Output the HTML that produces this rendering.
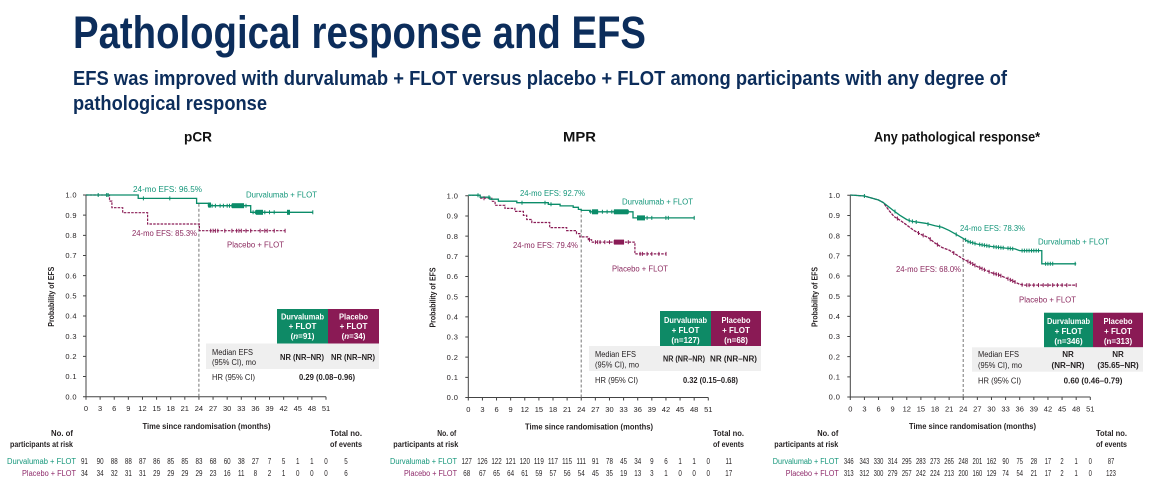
<!DOCTYPE html>
<html><head><meta charset="utf-8"><style>
html,body{margin:0;padding:0;background:#fff;}
svg{display:block;font-family:"Liberation Sans",Arial,sans-serif;}
</style></head><body>
<svg width="1151" height="490" viewBox="0 0 1151 490" xmlns="http://www.w3.org/2000/svg">
<rect width="1151" height="490" fill="#fff"/>
<!-- Titles -->
<text x="73" y="48" font-size="45" font-weight="bold" fill="#0c2d5b" textLength="573" lengthAdjust="spacingAndGlyphs">Pathological response and EFS</text>
<text x="73" y="85" font-size="20" font-weight="bold" fill="#0c2d5b" textLength="934" lengthAdjust="spacingAndGlyphs">EFS was improved with durvalumab + FLOT versus placebo + FLOT among participants with any degree of</text>
<text x="73" y="110" font-size="20" font-weight="bold" fill="#0c2d5b" textLength="194" lengthAdjust="spacingAndGlyphs">pathological response</text>
<text x="184" y="141.5" font-size="14" font-weight="bold" fill="#111" textLength="28" lengthAdjust="spacingAndGlyphs">pCR</text>
<text x="563" y="141.5" font-size="14" font-weight="bold" fill="#111" textLength="33" lengthAdjust="spacingAndGlyphs">MPR</text>
<text x="874" y="141.5" font-size="14" font-weight="bold" fill="#111" textLength="166" lengthAdjust="spacingAndGlyphs">Any pathological response*</text>

<!-- ================= PANEL 1 ================= -->
<g transform="translate(86,396.7)" fill="#231f20">
<path d="M0,-201.7V0H240" stroke="#444" stroke-width="1" fill="none"/>
<path d="M-3,0H0M-3,-20.17H0M-3,-40.34H0M-3,-60.51H0M-3,-80.68H0M-3,-100.85H0M-3,-121.02H0M-3,-141.19H0M-3,-161.36H0M-3,-181.53H0M-3,-201.7H0M0,0v3M14.12,0v3M28.24,0v3M42.35,0v3M56.47,0v3M70.59,0v3M84.71,0v3M98.82,0v3M112.94,0v3M127.06,0v3M141.18,0v3M155.29,0v3M169.41,0v3M183.53,0v3M197.65,0v3M211.76,0v3M225.88,0v3M240,0v3" stroke="#444" stroke-width="1"/>
<text font-size="7.5" text-anchor="end" letter-spacing="0.4"><tspan x="-9" y="2.7">0.0</tspan><tspan x="-9" y="-17.5">0.1</tspan><tspan x="-9" y="-37.6">0.2</tspan><tspan x="-9" y="-57.8">0.3</tspan><tspan x="-9" y="-78">0.4</tspan><tspan x="-9" y="-98.2">0.5</tspan><tspan x="-9" y="-118.3">0.6</tspan><tspan x="-9" y="-138.5">0.7</tspan><tspan x="-9" y="-158.7">0.8</tspan><tspan x="-9" y="-178.8">0.9</tspan><tspan x="-9" y="-199">1.0</tspan></text>
<text font-size="7.5" text-anchor="middle" y="14.3"><tspan x="0">0</tspan><tspan x="14.12">3</tspan><tspan x="28.24">6</tspan><tspan x="42.35">9</tspan><tspan x="56.47">12</tspan><tspan x="70.59">15</tspan><tspan x="84.71">18</tspan><tspan x="98.82">21</tspan><tspan x="112.94">24</tspan><tspan x="127.06">27</tspan><tspan x="141.18">30</tspan><tspan x="155.29">33</tspan><tspan x="169.41">36</tspan><tspan x="183.53">39</tspan><tspan x="197.65">42</tspan><tspan x="211.76">45</tspan><tspan x="225.88">48</tspan><tspan x="240">51</tspan></text>
<text x="56.5" y="32.5" font-size="8" font-weight="bold" textLength="128" lengthAdjust="spacingAndGlyphs">Time since randomisation (months)</text>
<text transform="translate(-32,-100) rotate(-90)" x="-30" y="0" font-size="8" font-weight="bold" textLength="60" lengthAdjust="spacingAndGlyphs">Probability of EFS</text>
<text x="-35" y="39.3" font-size="8" font-weight="bold" textLength="22" lengthAdjust="spacingAndGlyphs">No. of</text>
<text x="-76" y="50.3" font-size="8" font-weight="bold" textLength="63" lengthAdjust="spacingAndGlyphs">participants at risk</text>
<text x="244" y="39.3" font-size="8" font-weight="bold" textLength="32" lengthAdjust="spacingAndGlyphs">Total no.</text>
<text x="244" y="50.3" font-size="8" font-weight="bold" textLength="32" lengthAdjust="spacingAndGlyphs">of events</text>
<text x="-79" y="67.5" font-size="8" fill="#14967a" textLength="69" lengthAdjust="spacingAndGlyphs">Durvalumab + FLOT</text>
<text x="-64" y="79.5" font-size="8" fill="#8e2a6a" textLength="54" lengthAdjust="spacingAndGlyphs">Placebo + FLOT</text>
<g transform="scale(0.8,1)" font-size="7.8" text-anchor="middle">
<text y="67.5"><tspan x="-2">91</tspan><tspan x="17.65">90</tspan><tspan x="35.3">88</tspan><tspan x="52.94">88</tspan><tspan x="70.59">87</tspan><tspan x="88.24">86</tspan><tspan x="105.89">85</tspan><tspan x="123.53">85</tspan><tspan x="141.18">83</tspan><tspan x="158.83">68</tspan><tspan x="176.48">60</tspan><tspan x="194.11">38</tspan><tspan x="211.76">27</tspan><tspan x="229.41">7</tspan><tspan x="247.06">5</tspan><tspan x="264.7">1</tspan><tspan x="282.35">1</tspan><tspan x="300">0</tspan><tspan x="325">5</tspan></text>
<text y="79.5"><tspan x="-2">34</tspan><tspan x="17.65">34</tspan><tspan x="35.3">32</tspan><tspan x="52.94">31</tspan><tspan x="70.59">31</tspan><tspan x="88.24">29</tspan><tspan x="105.89">29</tspan><tspan x="123.53">29</tspan><tspan x="141.18">29</tspan><tspan x="158.83">23</tspan><tspan x="176.48">16</tspan><tspan x="194.11">11</tspan><tspan x="211.76">8</tspan><tspan x="229.41">2</tspan><tspan x="247.06">1</tspan><tspan x="264.7">0</tspan><tspan x="282.35">0</tspan><tspan x="300">0</tspan><tspan x="325">6</tspan></text>
</g>
</g>
<path d="M198.9,396.7V203.3" stroke="#777" stroke-width="1" stroke-dasharray="3,2" fill="none"/>
<path d="M86,195H109.5V201.1H111.9V207.7H122.7V212.7H147.6V224H199.4V230.7H285.1" stroke="#8a1c56" stroke-width="1.2" stroke-dasharray="2.5,1.2" fill="none"/>
<path d="M86,195H138.2V198.4H196.6V203.3H208.4V205.7H250.7V212.3H312.8" stroke="#0b8c69" stroke-width="1.3" fill="none"/>
<path d="M98.2,193v4M106.7,193v4M108.1,193v4M143.4,196.4v4M169.8,196.4v4M209.8,203.7v4M212.1,203.7v4M215.4,203.7v4M220.1,203.7v4M223.4,203.7v4M227.2,203.7v4M229.5,203.7v4M231.9,203.7v4M234.2,203.7v4M236.6,203.7v4M238,203.7v4M239.4,203.7v4M241.3,203.7v4M243.6,203.7v4M246,203.7v4M253.1,210.3v4M255.4,210.3v4M257.8,210.3v4M260.1,210.3v4M262.5,210.3v4M264.8,210.3v4M269.5,210.3v4M274.2,210.3v4M288.4,210.3v4M312.8,210.3v4" stroke="#0b8c69" stroke-width="1" fill="none"/>
<rect x="208" y="202.5" width="3" height="5" fill="#0b8c69"/><rect x="232" y="203.2" width="12" height="5" fill="#0b8c69"/><rect x="256" y="209.8" width="7" height="5" fill="#0b8c69"/><rect x="287" y="209.8" width="3" height="5" fill="#0b8c69"/>
<path d="M210.7,228.7v4M213.1,228.7v4M215.4,228.7v4M217.8,228.7v4M224.8,228.7v4M231.9,228.7v4M236.6,228.7v4M238.9,228.7v4M241.3,228.7v4M246,228.7v4M250.7,228.7v4M260.1,228.7v4M264.8,228.7v4M267.2,228.7v4M274.2,228.7v4M285.1,228.7v4" stroke="#8a1c56" stroke-width="1" fill="none"/>
<text x="133" y="192" font-size="8.5" fill="#14967a" textLength="69" lengthAdjust="spacingAndGlyphs">24-mo EFS: 96.5%</text>
<text x="246" y="197.5" font-size="8.5" fill="#14967a" textLength="71" lengthAdjust="spacingAndGlyphs">Durvalumab + FLOT</text>
<text x="132" y="236" font-size="8.5" fill="#8c2b60" textLength="65" lengthAdjust="spacingAndGlyphs">24-mo EFS: 85.3%</text>
<text x="227" y="247.5" font-size="8.5" fill="#8c2b60" textLength="57" lengthAdjust="spacingAndGlyphs">Placebo + FLOT</text>
<!-- table 1 -->
<rect x="277" y="309" width="51" height="34.5" fill="#0e8a66"/>
<rect x="328" y="309" width="51" height="34.5" fill="#8a1a55"/>
<rect x="206" y="343.5" width="173" height="25.5" fill="#efefef"/>
<g font-size="8" font-weight="bold" fill="#fff" text-anchor="middle">
<text x="302.5" y="319.5" textLength="43" lengthAdjust="spacingAndGlyphs">Durvalumab</text>
<text x="302.5" y="329">+ FLOT</text>
<text x="302.5" y="339">(<tspan font-style="italic">n</tspan>=91)</text>
<text x="353.5" y="319.5" textLength="29" lengthAdjust="spacingAndGlyphs">Placebo</text>
<text x="353.5" y="329">+ FLOT</text>
<text x="353.5" y="339">(<tspan font-style="italic">n</tspan>=34)</text>
</g>
<g font-size="8" fill="#231f20">
<text x="212" y="355" textLength="41" lengthAdjust="spacingAndGlyphs">Median EFS</text>
<text x="212" y="365" textLength="44" lengthAdjust="spacingAndGlyphs">(95% CI), mo</text>
<text x="212" y="380" textLength="43" lengthAdjust="spacingAndGlyphs">HR (95% CI)</text>
<text x="280" y="360" font-weight="bold" textLength="44" lengthAdjust="spacingAndGlyphs">NR (NR–NR)</text>
<text x="331" y="360" font-weight="bold" textLength="44" lengthAdjust="spacingAndGlyphs">NR (NR–NR)</text>
<text x="299" y="380" font-weight="bold" textLength="56" lengthAdjust="spacingAndGlyphs">0.29 (0.08–0.96)</text>
</g>

<!-- ================= PANEL 2 ================= -->
<g transform="translate(468.3,397.5)" fill="#231f20">
<path d="M0,-201.7V0H240" stroke="#444" stroke-width="1" fill="none"/>
<path d="M-3,0H0M-3,-20.17H0M-3,-40.34H0M-3,-60.51H0M-3,-80.68H0M-3,-100.85H0M-3,-121.02H0M-3,-141.19H0M-3,-161.36H0M-3,-181.53H0M-3,-201.7H0M0,0v3M14.12,0v3M28.24,0v3M42.35,0v3M56.47,0v3M70.59,0v3M84.71,0v3M98.82,0v3M112.94,0v3M127.06,0v3M141.18,0v3M155.29,0v3M169.41,0v3M183.53,0v3M197.65,0v3M211.76,0v3M225.88,0v3M240,0v3" stroke="#444" stroke-width="1"/>
<text font-size="7.5" text-anchor="end" letter-spacing="0.4"><tspan x="-10" y="2.7">0.0</tspan><tspan x="-10" y="-17.5">0.1</tspan><tspan x="-10" y="-37.6">0.2</tspan><tspan x="-10" y="-57.8">0.3</tspan><tspan x="-10" y="-78">0.4</tspan><tspan x="-10" y="-98.2">0.5</tspan><tspan x="-10" y="-118.3">0.6</tspan><tspan x="-10" y="-138.5">0.7</tspan><tspan x="-10" y="-158.7">0.8</tspan><tspan x="-10" y="-178.8">0.9</tspan><tspan x="-10" y="-199">1.0</tspan></text>
<text font-size="7.5" text-anchor="middle" y="14.3"><tspan x="0">0</tspan><tspan x="14.12">3</tspan><tspan x="28.24">6</tspan><tspan x="42.35">9</tspan><tspan x="56.47">12</tspan><tspan x="70.59">15</tspan><tspan x="84.71">18</tspan><tspan x="98.82">21</tspan><tspan x="112.94">24</tspan><tspan x="127.06">27</tspan><tspan x="141.18">30</tspan><tspan x="155.29">33</tspan><tspan x="169.41">36</tspan><tspan x="183.53">39</tspan><tspan x="197.65">42</tspan><tspan x="211.76">45</tspan><tspan x="225.88">48</tspan><tspan x="240">51</tspan></text>
<text x="56.7" y="32" font-size="8" font-weight="bold" textLength="128" lengthAdjust="spacingAndGlyphs">Time since randomisation (months)</text>
<text transform="translate(-33,-100) rotate(-90)" x="-30" y="0" font-size="8" font-weight="bold" textLength="60" lengthAdjust="spacingAndGlyphs">Probability of EFS</text>
<text x="-31" y="38.5" font-size="8" font-weight="bold" textLength="19" lengthAdjust="spacingAndGlyphs">No. of</text>
<text x="-75" y="49.5" font-size="8" font-weight="bold" textLength="65" lengthAdjust="spacingAndGlyphs">participants at risk</text>
<text x="244.7" y="38.5" font-size="8" font-weight="bold" textLength="31" lengthAdjust="spacingAndGlyphs">Total no.</text>
<text x="244.7" y="49.5" font-size="8" font-weight="bold" textLength="31" lengthAdjust="spacingAndGlyphs">of events</text>
<text x="-78.3" y="66.7" font-size="8" fill="#14967a" textLength="67" lengthAdjust="spacingAndGlyphs">Durvalumab + FLOT</text>
<text x="-64.3" y="78.7" font-size="8" fill="#8e2a6a" textLength="53" lengthAdjust="spacingAndGlyphs">Placebo + FLOT</text>
<g transform="scale(0.8,1)" font-size="7.8" text-anchor="middle">
<text y="66.7"><tspan x="-2">127</tspan><tspan x="17.65">126</tspan><tspan x="35.3">122</tspan><tspan x="52.94">121</tspan><tspan x="70.59">120</tspan><tspan x="88.24">119</tspan><tspan x="105.89">117</tspan><tspan x="123.53">115</tspan><tspan x="141.18">111</tspan><tspan x="158.83">91</tspan><tspan x="176.48">78</tspan><tspan x="194.11">45</tspan><tspan x="211.76">34</tspan><tspan x="229.41">9</tspan><tspan x="247.06">6</tspan><tspan x="264.7">1</tspan><tspan x="282.35">1</tspan><tspan x="300">0</tspan><tspan x="325.5">11</tspan></text>
<text y="78.7"><tspan x="-2">68</tspan><tspan x="17.65">67</tspan><tspan x="35.3">65</tspan><tspan x="52.94">64</tspan><tspan x="70.59">61</tspan><tspan x="88.24">59</tspan><tspan x="105.89">57</tspan><tspan x="123.53">56</tspan><tspan x="141.18">54</tspan><tspan x="158.83">45</tspan><tspan x="176.48">35</tspan><tspan x="194.11">19</tspan><tspan x="211.76">13</tspan><tspan x="229.41">3</tspan><tspan x="247.06">1</tspan><tspan x="264.7">0</tspan><tspan x="282.35">0</tspan><tspan x="300">0</tspan><tspan x="325.5">17</tspan></text>
</g>
</g>
<path d="M581.2,397.5V210.4" stroke="#777" stroke-width="1" stroke-dasharray="3,2" fill="none"/>
<path d="M468.3,195.2H480.1V198.2H491.8V201.3H495.1V205.3H505V208.4H514.9V211.4H523.4V215.4H526.7V219.5H531.8V222.5H549.7V227.6H566.7V230.6H576.5V233.6H579.8V236.9H588.3V239.7H591.6V242.1H634.9V253.9H666.4" stroke="#8a1c56" stroke-width="1.2" stroke-dasharray="2.5,1.2" fill="none"/>
<path d="M468.3,195.2H480.1V197.2H490V199.2H498.4V201.2H516.8V202.7H548.3V204.3H560.1V205.9H573.2V207.3H578.4V209.4H581.2V210.4H589.7V211.8H633V217.9H694.7" stroke="#0b8c69" stroke-width="1.3" fill="none"/>
<path d="M478,193.2v4M489,195.2v4M522,200.7v4M545,200.7v4M551,202.3v4M590.7,209.8v4M593,209.8v4M595.4,209.8v4M597.7,209.8v4M602.4,209.8v4M607.1,209.8v4M611.8,209.8v4M614.2,209.8v4M615.6,209.8v4M617,209.8v4M618.9,209.8v4M620.3,209.8v4M621.7,209.8v4M623.6,209.8v4M626,209.8v4M628.3,209.8v4M637.7,215.9v4M640.1,215.9v4M642.4,215.9v4M643.8,215.9v4M647.1,215.9v4M651.8,215.9v4M665.9,215.9v4M668.3,215.9v4M694.2,215.9v4" stroke="#0b8c69" stroke-width="1" fill="none"/>
<rect x="592" y="209.3" width="6" height="5" fill="#0b8c69"/><rect x="614" y="209.3" width="14" height="5" fill="#0b8c69"/><rect x="637" y="215.4" width="8" height="5" fill="#0b8c69"/>
<path d="M484,196.2v4M589.5,237.7v4M595.4,240.1v4M597.7,240.1v4M600.1,240.1v4M604.8,240.1v4M609.5,240.1v4M614.2,240.1v4M616.5,240.1v4M618.9,240.1v4M621.2,240.1v4M623.6,240.1v4M628.3,240.1v4M640.1,251.9v4M642.4,251.9v4M647.1,251.9v4M651.8,251.9v4M658.9,251.9v4M666,251.9v4" stroke="#8a1c56" stroke-width="1" fill="none"/>
<rect x="614" y="239.6" width="10" height="5" fill="#8a1c56"/>
<text x="520" y="196" font-size="8.5" fill="#14967a" textLength="65" lengthAdjust="spacingAndGlyphs">24-mo EFS: 92.7%</text>
<text x="622" y="204.5" font-size="8.5" fill="#14967a" textLength="71" lengthAdjust="spacingAndGlyphs">Durvalumab + FLOT</text>
<text x="513" y="248" font-size="8.5" fill="#8c2b60" textLength="65" lengthAdjust="spacingAndGlyphs">24-mo EFS: 79.4%</text>
<text x="612" y="271.5" font-size="8.5" fill="#8c2b60" textLength="56" lengthAdjust="spacingAndGlyphs">Placebo + FLOT</text>
<!-- table 2 -->
<rect x="660" y="311" width="51" height="35" fill="#0e8a66"/>
<rect x="711" y="311" width="50" height="35" fill="#8a1a55"/>
<rect x="589" y="346" width="172" height="25" fill="#efefef"/>
<g font-size="8" font-weight="bold" fill="#fff" text-anchor="middle">
<text x="685.5" y="323" textLength="43" lengthAdjust="spacingAndGlyphs">Durvalumab</text>
<text x="685.5" y="333">+ FLOT</text>
<text x="685.5" y="343">(n=127)</text>
<text x="736" y="323" textLength="29" lengthAdjust="spacingAndGlyphs">Placebo</text>
<text x="736" y="333">+ FLOT</text>
<text x="736" y="343">(n=68)</text>
</g>
<g font-size="8" fill="#231f20">
<text x="595" y="357" textLength="41" lengthAdjust="spacingAndGlyphs">Median EFS</text>
<text x="595" y="367.5" textLength="44" lengthAdjust="spacingAndGlyphs">(95% CI), mo</text>
<text x="595" y="383" textLength="43" lengthAdjust="spacingAndGlyphs">HR (95% CI)</text>
<text x="663" y="361.5" font-weight="bold" textLength="42" lengthAdjust="spacingAndGlyphs">NR (NR–NR)</text>
<text x="710" y="361.5" font-weight="bold" textLength="47" lengthAdjust="spacingAndGlyphs">NR (NR–NR)</text>
<text x="683" y="383" font-weight="bold" textLength="55" lengthAdjust="spacingAndGlyphs">0.32 (0.15–0.68)</text>
</g>

<!-- ================= PANEL 3 ================= -->
<g transform="translate(850.3,397)" fill="#231f20">
<path d="M0,-201.7V0H240" stroke="#444" stroke-width="1" fill="none"/>
<path d="M-3,0H0M-3,-20.17H0M-3,-40.34H0M-3,-60.51H0M-3,-80.68H0M-3,-100.85H0M-3,-121.02H0M-3,-141.19H0M-3,-161.36H0M-3,-181.53H0M-3,-201.7H0M0,0v3M14.12,0v3M28.24,0v3M42.35,0v3M56.47,0v3M70.59,0v3M84.71,0v3M98.82,0v3M112.94,0v3M127.06,0v3M141.18,0v3M155.29,0v3M169.41,0v3M183.53,0v3M197.65,0v3M211.76,0v3M225.88,0v3M240,0v3" stroke="#444" stroke-width="1"/>
<text font-size="7.5" text-anchor="end" letter-spacing="0.4"><tspan x="-10" y="2.7">0.0</tspan><tspan x="-10" y="-17.5">0.1</tspan><tspan x="-10" y="-37.6">0.2</tspan><tspan x="-10" y="-57.8">0.3</tspan><tspan x="-10" y="-78">0.4</tspan><tspan x="-10" y="-98.2">0.5</tspan><tspan x="-10" y="-118.3">0.6</tspan><tspan x="-10" y="-138.5">0.7</tspan><tspan x="-10" y="-158.7">0.8</tspan><tspan x="-10" y="-178.8">0.9</tspan><tspan x="-10" y="-199">1.0</tspan></text>
<text font-size="7.5" text-anchor="middle" y="14.3"><tspan x="0">0</tspan><tspan x="14.12">3</tspan><tspan x="28.24">6</tspan><tspan x="42.35">9</tspan><tspan x="56.47">12</tspan><tspan x="70.59">15</tspan><tspan x="84.71">18</tspan><tspan x="98.82">21</tspan><tspan x="112.94">24</tspan><tspan x="127.06">27</tspan><tspan x="141.18">30</tspan><tspan x="155.29">33</tspan><tspan x="169.41">36</tspan><tspan x="183.53">39</tspan><tspan x="197.65">42</tspan><tspan x="211.76">45</tspan><tspan x="225.88">48</tspan><tspan x="240">51</tspan></text>
<text x="58.7" y="32" font-size="8" font-weight="bold" textLength="127" lengthAdjust="spacingAndGlyphs">Time since randomisation (months)</text>
<text transform="translate(-33,-100) rotate(-90)" x="-30" y="0" font-size="8" font-weight="bold" textLength="60" lengthAdjust="spacingAndGlyphs">Probability of EFS</text>
<text x="-33" y="39" font-size="8" font-weight="bold" textLength="21" lengthAdjust="spacingAndGlyphs">No. of</text>
<text x="-76" y="50" font-size="8" font-weight="bold" textLength="64" lengthAdjust="spacingAndGlyphs">participants at risk</text>
<text x="245.7" y="39" font-size="8" font-weight="bold" textLength="31" lengthAdjust="spacingAndGlyphs">Total no.</text>
<text x="245.7" y="50" font-size="8" font-weight="bold" textLength="31" lengthAdjust="spacingAndGlyphs">of events</text>
<text x="-77.5" y="67.2" font-size="8" fill="#14967a" textLength="66" lengthAdjust="spacingAndGlyphs">Durvalumab + FLOT</text>
<text x="-64.5" y="79.2" font-size="8" fill="#8e2a6a" textLength="53" lengthAdjust="spacingAndGlyphs">Placebo + FLOT</text>
<g transform="scale(0.75,1)" font-size="7.8" text-anchor="middle">
<text y="67.2"><tspan x="-2">346</tspan><tspan x="18.83">343</tspan><tspan x="37.65">330</tspan><tspan x="56.47">314</tspan><tspan x="75.29">295</tspan><tspan x="94.12">283</tspan><tspan x="112.94">273</tspan><tspan x="131.76">265</tspan><tspan x="150.59">248</tspan><tspan x="169.41">201</tspan><tspan x="188.24">162</tspan><tspan x="207.06">90</tspan><tspan x="225.88">75</tspan><tspan x="244.71">28</tspan><tspan x="263.53">17</tspan><tspan x="282.35">2</tspan><tspan x="301.18">1</tspan><tspan x="320">0</tspan><tspan x="347.6">87</tspan></text>
<text y="79.2"><tspan x="-2">313</tspan><tspan x="18.83">312</tspan><tspan x="37.65">300</tspan><tspan x="56.47">279</tspan><tspan x="75.29">257</tspan><tspan x="94.12">242</tspan><tspan x="112.94">224</tspan><tspan x="131.76">213</tspan><tspan x="150.59">200</tspan><tspan x="169.41">160</tspan><tspan x="188.24">129</tspan><tspan x="207.06">74</tspan><tspan x="225.88">54</tspan><tspan x="244.71">21</tspan><tspan x="263.53">17</tspan><tspan x="282.35">2</tspan><tspan x="301.18">1</tspan><tspan x="320">0</tspan><tspan x="347.6">123</tspan></text>
</g>
</g>
<path d="M963.2,397V238.4" stroke="#777" stroke-width="1" stroke-dasharray="3,2" fill="none"/>
<polyline points="850.3,195 864.4,196 878.5,200 883.2,202.5 889.4,211 894.1,216.6 900.2,220.3 906.8,225.1 913.8,230.4 920.9,234.4 928,237.4 935,243.1 942.1,247.5 949.1,250.1 956.2,254.6 963.2,259 970.3,262.7 977.4,266.7 984.4,269.7 991.5,272.8 998.5,274.8 1005.6,277.8 1012.7,280.9 1019.7,284.3 1024.4,285.1 1076.2,285.1" stroke="#8a1c56" stroke-width="1.3" stroke-dasharray="3,1" fill="none"/>
<polyline points="850.3,195 864.4,196 878.5,200 883.2,202.5 892.7,210 899.7,215.2 906.8,219.6 911.5,221.3 925.6,223.3 935,225.7 942.1,227.3 949.1,230.4 956.2,234.4 963.2,238.4 968,241.5 977.4,244.1 991.5,246.5 1005.6,248.1 1015,248.9 1019.7,250.6 1041.8,250.6 1041.8,263.8 1076.2,263.8" stroke="#0b8c69" stroke-width="1.3" fill="none"/>
<path d="M864.4,194v4M895,209.5v4M909.2,218.4v4M912.4,219.4v4M916.2,220v4M928,222.1v4M939.7,224.8v4M956.2,232.4v4M965.6,237.9v4M968,239.5v4M970.3,240.1v4M972.7,240.8v4M975,241.5v4M979.7,242.5v4M982.1,242.9v4M984.4,243.3v4M986.8,243.7v4M989.1,244.1v4M993.8,244.8v4M996.2,245.1v4M998.5,245.3v4M1000.9,245.6v4M1003.2,245.8v4M1008,246.3v4M1010.3,246.5v4M1012.7,246.7v4M1022.1,248.6v4M1024.4,248.6v4M1026.8,248.6v4M1029.1,248.6v4M1031.5,248.6v4M1033.8,248.6v4M1036.2,248.6v4M1038.5,248.6v4M1045.6,261.8v4M1047.9,261.8v4M1050.3,261.8v4M1052.7,261.8v4M1075.2,261.8v4" stroke="#0b8c69" stroke-width="1" fill="none"/>
<path d="M897.4,216.5v4M918.5,231v4M923.2,233.4v4M930.3,237.3v4M937.4,242.6v4M953.8,251v4M968,259.5v4M970.3,260.7v4M972.7,262v4M975,263.4v4M979.7,265.7v4M982.1,266.7v4M984.4,267.7v4M989.1,269.8v4M993.8,271.5v4M996.2,272.1v4M998.5,272.8v4M1000.9,273.8v4M1008,276.8v4M1010.3,277.9v4M1012.7,278.9v4M1015,280v4M1022.1,282.7v4M1026.8,283.1v4M1029.1,283.1v4M1033.8,283.1v4M1038.5,283.1v4M1043.2,283.1v4M1047.9,283.1v4M1052.7,283.1v4M1057.4,283.1v4M1062.1,283.1v4M1066.8,283.1v4M1076.2,283.1v4" stroke="#8a1c56" stroke-width="1" fill="none"/>
<text x="960" y="231" font-size="8.5" fill="#14967a" textLength="65" lengthAdjust="spacingAndGlyphs">24-mo EFS: 78.3%</text>
<text x="1038" y="244.5" font-size="8.5" fill="#14967a" textLength="71" lengthAdjust="spacingAndGlyphs">Durvalumab + FLOT</text>
<text x="896" y="272" font-size="8.5" fill="#8c2b60" textLength="65" lengthAdjust="spacingAndGlyphs">24-mo EFS: 68.0%</text>
<text x="1019" y="302.5" font-size="8.5" fill="#8c2b60" textLength="57" lengthAdjust="spacingAndGlyphs">Placebo + FLOT</text>
<!-- table 3 -->
<rect x="1044" y="312.7" width="49" height="34.6" fill="#0e8a66"/>
<rect x="1093" y="312.7" width="50" height="34.6" fill="#8a1a55"/>
<rect x="972" y="347.3" width="171" height="24.4" fill="#efefef"/>
<g font-size="8" font-weight="bold" fill="#fff" text-anchor="middle">
<text x="1068.5" y="324" textLength="43" lengthAdjust="spacingAndGlyphs">Durvalumab</text>
<text x="1068.5" y="334">+ FLOT</text>
<text x="1068.5" y="344">(n=346)</text>
<text x="1118" y="324" textLength="29" lengthAdjust="spacingAndGlyphs">Placebo</text>
<text x="1118" y="334">+ FLOT</text>
<text x="1118" y="344">(n=313)</text>
</g>
<g font-size="8" fill="#231f20">
<text x="978" y="357" textLength="41" lengthAdjust="spacingAndGlyphs">Median EFS</text>
<text x="978" y="368" textLength="44" lengthAdjust="spacingAndGlyphs">(95% CI), mo</text>
<text x="978" y="383.5" textLength="43" lengthAdjust="spacingAndGlyphs">HR (95% CI)</text>
<g font-weight="bold" text-anchor="middle">
<text x="1068" y="357">NR</text>
<text x="1068" y="368">(NR–NR)</text>
<text x="1118" y="357">NR</text>
<text x="1118" y="368">(35.65–NR)</text>
<text x="1093" y="383.5">0.60 (0.46–0.79)</text>
</g>
</g>
</svg>
</body></html>
